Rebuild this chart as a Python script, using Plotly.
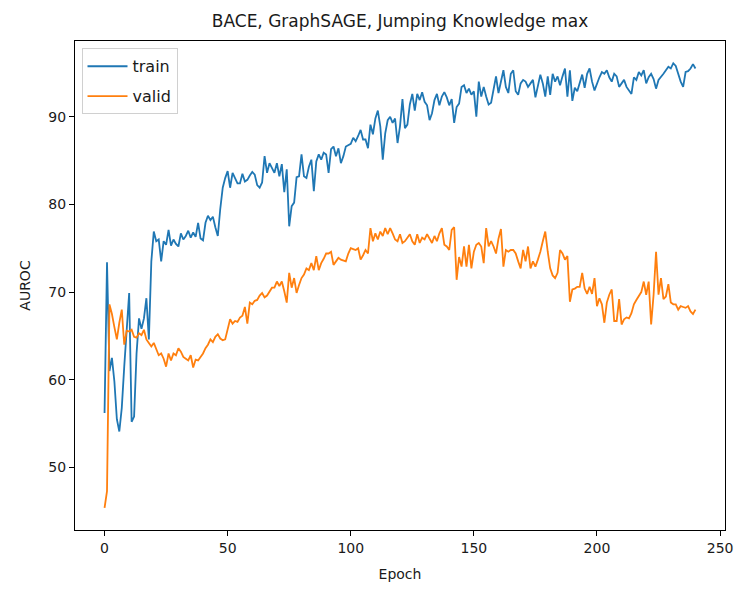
import plotly.graph_objects as go

epochs = list(range(241))

train_auroc = [
    56.2, 73.4, 61.0, 62.5, 59.8, 55.5, 54.1, 56.8, 61.5, 65.5,
    69.9, 55.2, 55.8, 63.0, 67.0, 65.8, 67.0, 69.3, 64.6, 73.5,
    76.9, 75.8, 76.0, 73.5, 75.8, 75.4, 77.1, 75.3, 76.0, 75.5,
    75.2, 76.7, 76.0, 76.4, 77.0, 76.2, 76.8, 76.3, 77.9, 76.1,
    75.9, 77.9, 78.7, 78.2, 78.6, 77.4, 76.4, 79.5, 81.9, 83.0,
    83.8, 81.9, 83.6, 83.0, 82.4, 82.4, 83.5, 82.6, 82.8, 83.3,
    83.7, 83.4, 82.2, 81.9, 82.5, 85.5, 83.6, 84.7, 84.2, 83.6,
    84.7, 83.2, 84.6, 81.4, 84.0, 77.5, 79.8, 80.2, 83.1, 83.2,
    85.7, 83.2, 83.0, 84.3, 85.1, 81.5, 84.9, 85.7, 85.1, 85.9,
    85.7, 83.6, 86.3, 86.6, 85.5, 86.4, 84.7, 85.5, 86.6, 86.8,
    86.9, 87.6, 87.2, 87.8, 88.5, 87.4, 87.4, 86.4, 89.1, 88.0,
    89.8, 90.7, 88.9, 85.1, 88.1, 89.6, 90.0, 89.3, 89.8, 87.0,
    88.9, 92.0, 88.7, 89.1, 91.4, 92.6, 90.7, 92.6, 91.9, 92.8,
    91.7, 91.3, 89.6, 90.4, 91.9, 92.6, 91.3, 92.3, 92.8, 92.2,
    91.3, 92.0, 89.3, 91.1, 91.5, 93.4, 93.6, 92.7, 93.2, 92.5,
    92.9, 90.0, 94.0, 92.3, 93.4, 92.3, 91.4, 91.6, 92.9, 94.6,
    92.7, 94.2, 95.3, 93.4, 92.7, 94.9, 95.3, 92.9, 92.5, 93.8,
    94.2, 94.0, 93.4, 93.8, 94.2, 92.2, 93.4, 94.8, 93.8, 92.3,
    94.6, 92.5, 94.9, 94.0, 94.6, 93.6, 94.6, 95.5, 92.3, 95.3,
    91.8, 93.3, 92.9, 93.8, 94.8, 93.3, 94.9, 95.5, 94.0, 93.0,
    93.8, 94.5, 95.1, 94.9, 95.3, 94.5, 94.0, 94.9, 94.6, 93.4,
    93.8, 94.2, 93.4, 93.0, 92.6, 94.5, 94.2, 95.1, 94.7, 95.3,
    93.8, 94.5, 94.9, 94.3, 93.2, 94.2, 94.5, 94.9, 95.3, 95.7,
    95.5, 96.1, 95.8, 94.9, 94.0, 93.4, 95.1, 95.2, 95.5, 96.0,
    95.5,
]

valid_auroc = [
    45.4, 47.3, 68.6, 67.5, 66.0, 64.6, 66.5, 68.0, 64.0, 65.6,
    65.5, 65.7, 64.9, 64.8, 65.3, 65.1, 65.7, 64.6, 64.2, 63.8,
    64.2, 63.6, 62.8, 63.0, 62.4, 61.5, 63.0, 62.2, 63.0, 62.8,
    63.6, 63.2, 62.6, 62.4, 62.2, 62.8, 61.4, 62.3, 62.2, 62.6,
    63.0, 63.6, 64.0, 64.6, 64.3, 64.9, 65.2, 64.7, 64.5, 64.6,
    65.8, 66.9, 66.4, 66.7, 66.6, 67.1, 67.3, 68.3, 66.4, 68.8,
    68.6, 69.0, 69.1, 69.6, 69.9, 69.4, 69.6, 70.1, 70.5, 70.5,
    71.2, 70.7, 71.2, 70.1, 68.8, 72.2, 70.5, 71.6, 69.9, 70.8,
    71.6, 72.0, 72.7, 72.5, 73.3, 72.5, 74.1, 72.5, 73.3, 73.8,
    74.4, 74.4, 74.6, 73.1, 73.5, 73.9, 73.7, 73.6, 73.5, 74.4,
    75.0, 74.9, 74.8, 75.0, 73.7, 74.2, 74.8, 74.4, 77.3, 75.8,
    76.7, 76.0, 76.9, 76.4, 77.3, 76.6, 77.3, 76.7, 76.0, 75.8,
    76.6, 75.6, 75.8, 76.2, 76.6, 75.8, 75.4, 76.6, 75.6, 76.2,
    76.0, 76.6, 76.0, 75.6, 76.4, 75.8, 76.7, 77.3, 75.4, 75.2,
    74.8, 77.1, 77.4, 71.4, 74.0, 72.9, 75.2, 72.9, 75.4, 72.7,
    74.6, 75.4, 75.6, 75.2, 73.3, 77.3, 75.2, 75.8, 75.2, 74.4,
    76.1, 77.2, 72.9, 74.8, 74.6, 74.8, 74.8, 74.4, 73.5, 72.7,
    74.8, 73.5, 75.2, 72.7, 73.5, 72.9, 73.7, 74.6, 75.8, 76.9,
    74.6, 72.7, 71.9, 71.6, 72.2, 74.8, 74.4, 73.7, 74.1, 68.9,
    70.3, 70.4, 70.6, 70.6, 72.2, 70.4, 69.8, 70.6, 69.8, 71.6,
    68.4, 69.3, 68.6, 66.5, 68.8, 69.7, 70.3, 66.7, 66.7, 69.2,
    66.3, 66.9, 67.1, 67.0, 67.6, 68.6, 69.1, 69.5, 70.0, 71.2,
    69.7, 71.2, 66.3, 69.7, 74.6, 69.7, 71.6, 69.2, 69.5, 70.9,
    68.8, 68.6, 68.6, 68.0, 68.4, 68.3, 68.2, 68.4, 67.8, 67.5,
    68.0,
]

series_names = ["train", "valid"]
series_colors = ["#1f77b4", "#ff7f0e"]

x_ticks = [0, 50, 100, 150, 200, 250]
y_ticks = [50, 60, 70, 80, 90]

# matplotlib-like 5% margins
xmin, xmax = min(epochs), max(epochs)
xpad = 0.05 * (xmax - xmin)
all_y = train_auroc + valid_auroc
ymin, ymax = min(all_y), max(all_y)
ypad = 0.05 * (ymax - ymin)

font_family = "DejaVu Sans"
text_color = "#1a1a1a"

fig = go.Figure()
for name, vals, col in zip(series_names, [train_auroc, valid_auroc], series_colors):
    fig.add_trace(go.Scatter(
        x=epochs, y=vals, mode="lines", name=name, legendgroup=name,
        line=dict(color=col, width=1.8),
    ))

axis_common = dict(
    showgrid=False, zeroline=False, showline=True, linecolor="black",
    linewidth=1, mirror=True, ticks="outside", ticklen=5, tickwidth=1,
    tickcolor="black", tickfont=dict(family=font_family, size=14, color=text_color),
)

fig.update_layout(
    width=745, height=592,
    margin=dict(l=75, r=14, t=41, b=62),
    paper_bgcolor="white", plot_bgcolor="white",
    font=dict(family=font_family, size=14, color=text_color),
    title=dict(text="BACE, GraphSAGE, Jumping Knowledge max",
               xref="paper", x=0.5, xanchor="center",
               yref="container", y=1 - 21 / 592, yanchor="middle",
               font=dict(family=font_family, size=17, color=text_color)),
    xaxis=dict(range=[xmin - xpad, xmax + xpad], tickvals=x_ticks,
               title=dict(text="Epoch", standoff=14,
                          font=dict(family=font_family, size=14, color=text_color)),
               **axis_common),
    yaxis=dict(range=[ymin - ypad, ymax + ypad], tickvals=y_ticks,
               title=dict(text="AUROC", standoff=14,
                          font=dict(family=font_family, size=14, color=text_color)),
               **axis_common),
    legend=dict(x=0.01, y=0.985, xanchor="left", yanchor="top",
                bgcolor="rgba(255,255,255,0.85)", bordercolor="#d0d0d0",
                borderwidth=1, font=dict(family=font_family, size=16, color=text_color),
                tracegroupgap=6, itemwidth=40),
    showlegend=True,
)

fig.write_html("out.html")
